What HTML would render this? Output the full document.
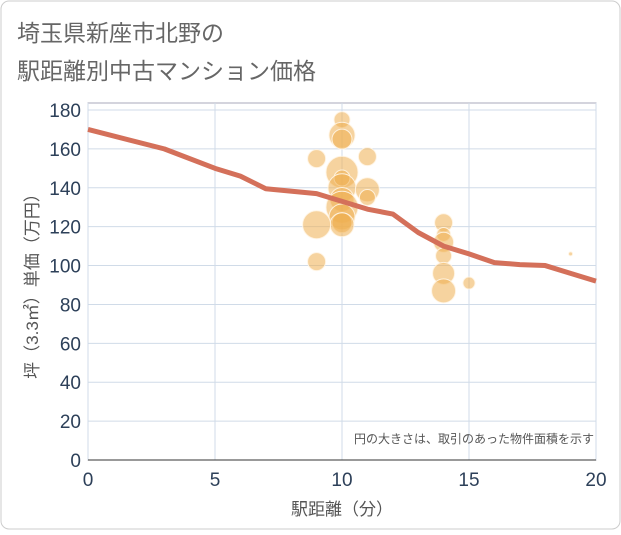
<!DOCTYPE html>
<html><head><meta charset="utf-8"><style>
body{margin:0;background:#fff;font-family:"Liberation Sans","Noto Sans CJK JP",sans-serif;}
</style></head><body>
<svg width="621" height="530" xmlns="http://www.w3.org/2000/svg">
<rect x="1" y="1" width="619" height="528" rx="8" fill="#fff" stroke="#ccc"/>
<text x="17" y="41" font-size="23" fill="#666" font-family="Liberation Sans,Noto Sans CJK JP,sans-serif">埼玉県新座市北野の</text>
<text x="17" y="79" font-size="23" fill="#666" font-family="Liberation Sans,Noto Sans CJK JP,sans-serif">駅距離別中古マンション価格</text>
<g id="grid"></g>
<g id="bubbles"></g>
<g id="line"></g>
<g id="axes"></g>
<text x="594" y="443" font-size="12" fill="#555" text-anchor="end" font-family="Liberation Sans,Noto Sans CJK JP,sans-serif">円の大きさは、取引のあった物件面積を示す</text>
<text x="342" y="515" font-size="17" fill="#555" text-anchor="middle" font-family="Liberation Sans,Noto Sans CJK JP,sans-serif">駅距離（分）</text>
<text transform="translate(38,282) rotate(-90)" font-size="17" fill="#555" text-anchor="middle" font-family="Liberation Sans,Noto Sans CJK JP,sans-serif">坪（3.3㎡）単価（万円）</text>
</svg>
<script>
const xTicks=[0,5,10,15,20];
const yTicks=[0,20,40,60,80,100,120,140,160,180];
const bubbleX=[10,10,10,10,10,10,10,10,10,10,10,9,9,9,11,11,11,14,14,14,14,14,14,15,19];
const bubbleY=[175,167,165,148,145,140,134,130,125,122,121,155,121,102,156,139,135,122,116,112,105,96,87,91,106];
const bubbleSize=[8,13,10,16,8,14,12,16,13,10,12,9,14,9,9,12,8,9,7,10,8,11,12,6,2];
const lineX=[0,3,5,6,7,9,10,11,12,13,14,15,16,17,18,19,20];
const lineY=[170,160,150,146,139.5,137,133,129,126.5,117,110,106,101.5,100.5,100,96,92];
const X0=88,X1=596,Y0=460,Y1=110;
const sx=v=>X0+(X1-X0)*v/20, sy=v=>Y0-(Y0-Y1)*v/180;
const NS="http://www.w3.org/2000/svg";
function mk(t,a,p){const e=document.createElementNS(NS,t);for(const k in a)e.setAttribute(k,a[k]);p.appendChild(e);return e;}
const g=document.getElementById('grid'),b=document.getElementById('bubbles'),l=document.getElementById('line'),ax=document.getElementById('axes');
mk('rect',{x:X0,y:103,width:X1-X0,height:Y0-103,fill:'none',stroke:'#aab'},g);
xTicks.forEach(v=>{const e=mk('line',{x1:sx(v),x2:sx(v),y1:103,y2:Y0,stroke:'#d0dbe8'},g);


const t=mk('text',{x:sx(v),y:Y0+26,'font-size':19,fill:'#2d4059','text-anchor':'middle'},ax);t.textContent=v;

});
yTicks.forEach(v=>{const e=mk('line',{x1:X0,x2:X1,y1:sy(v),y2:sy(v),stroke:'#d0dbe8'},g);


const t=mk('text',{x:X0-7,y:sy(v)+7,'font-size':19,fill:'#2d4059','text-anchor':'end'},ax);t.textContent=v;

});
mk('line',{x1:X0,x2:X1,y1:Y0,y2:Y0,stroke:'#333'},ax);
bubbleX.forEach((x,i)=>{const c=mk('circle',{cx:sx(x),cy:sy(bubbleY[i]),r:bubbleSize[i],fill:'rgba(238,175,80,0.55)',stroke:'rgba(255,245,230,0.9)'},b);

});
const p=mk('polyline',{points:lineX.map((x,i)=>sx(x)+','+sy(lineY[i])).join(' '),fill:'none',stroke:'#d4705a','stroke-width':5,'stroke-linejoin':'round'},l);


</script>
</body></html>
